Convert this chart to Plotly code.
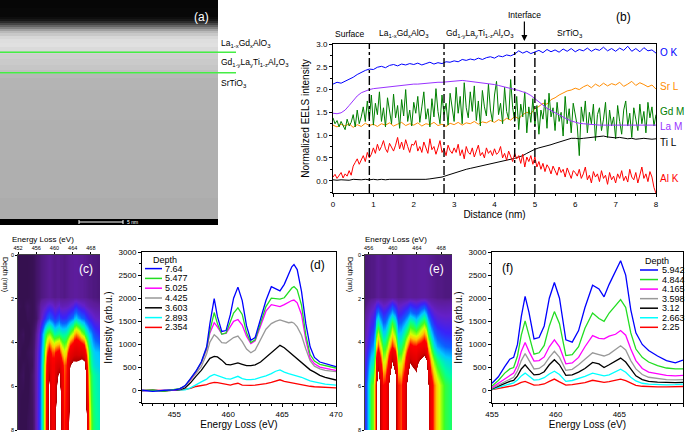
import plotly.graph_objects as go

FONT = "Liberation Sans, Arial, sans-serif"
W, H = 688, 436

# ---------------- panel (a): HAADF image brightness profile ----------------
img_rows = [0, 16, 18, 20, 22, 24, 26, 28, 30, 32, 34, 37, 41, 45, 49, 52, 56, 62, 68, 72, 76, 80, 100, 140, 180, 216, 222]
img_gray = [6, 8, 14, 24, 44, 70, 100, 130, 160, 185, 200, 215, 222, 224, 218, 210, 206, 202, 198, 192, 184, 180, 178, 176, 175, 172, 0]

# ---------------- panel (b): EELS profiles ----------------
distance = [0.0, 0.1, 0.2, 0.3, 0.4, 0.5, 0.6, 0.7, 0.8, 0.9,
            1.0, 1.1, 1.2, 1.3, 1.4, 1.5, 1.6, 1.7, 1.8, 1.9,
            2.0, 2.1, 2.2, 2.3, 2.4, 2.5, 2.6, 2.7, 2.8, 2.9,
            3.0, 3.1, 3.2, 3.3, 3.4, 3.5, 3.6, 3.7, 3.8, 3.9,
            4.0, 4.1, 4.2, 4.3, 4.4, 4.5, 4.6, 4.7, 4.8, 4.9,
            5.0, 5.1, 5.2, 5.3, 5.4, 5.5, 5.6, 5.7, 5.8, 5.9,
            6.0, 6.1, 6.2, 6.3, 6.4, 6.5, 6.6, 6.7, 6.8, 6.9,
            7.0, 7.1, 7.2, 7.3, 7.4, 7.5, 7.6, 7.7, 7.8, 7.9, 8.0]
distance_fine = [0.00, 0.05, 0.10, 0.15, 0.20, 0.25, 0.30, 0.35, 0.40, 0.45,
                 0.50, 0.55, 0.60, 0.65, 0.70, 0.75, 0.80, 0.85, 0.90, 0.95,
                 1.00, 1.05, 1.10, 1.15, 1.20, 1.25, 1.30, 1.35, 1.40, 1.45,
                 1.50, 1.55, 1.60, 1.65, 1.70, 1.75, 1.80, 1.85, 1.90, 1.95,
                 2.00, 2.05, 2.10, 2.15, 2.20, 2.25, 2.30, 2.35, 2.40, 2.45,
                 2.50, 2.55, 2.60, 2.65, 2.70, 2.75, 2.80, 2.85, 2.90, 2.95,
                 3.00, 3.05, 3.10, 3.15, 3.20, 3.25, 3.30, 3.35, 3.40, 3.45,
                 3.50, 3.55, 3.60, 3.65, 3.70, 3.75, 3.80, 3.85, 3.90, 3.95,
                 4.00, 4.05, 4.10, 4.15, 4.20, 4.25, 4.30, 4.35, 4.40, 4.45,
                 4.50, 4.55, 4.60, 4.65, 4.70, 4.75, 4.80, 4.85, 4.90, 4.95,
                 5.00, 5.05, 5.10, 5.15, 5.20, 5.25, 5.30, 5.35, 5.40, 5.45,
                 5.50, 5.55, 5.60, 5.65, 5.70, 5.75, 5.80, 5.85, 5.90, 5.95,
                 6.00, 6.05, 6.10, 6.15, 6.20, 6.25, 6.30, 6.35, 6.40, 6.45,
                 6.50, 6.55, 6.60, 6.65, 6.70, 6.75, 6.80, 6.85, 6.90, 6.95,
                 7.00, 7.05, 7.10, 7.15, 7.20, 7.25, 7.30, 7.35, 7.40, 7.45,
                 7.50, 7.55, 7.60, 7.65, 7.70, 7.75, 7.80, 7.85, 7.90, 7.95, 8.00]
o_k = [2.12, 2.16, 2.14, 2.18, 2.22, 2.27, 2.33, 2.38, 2.42, 2.45,
       2.44, 2.49, 2.51, 2.48, 2.53, 2.55, 2.52, 2.56, 2.54, 2.57,
       2.55, 2.58, 2.54, 2.57, 2.60, 2.56, 2.59, 2.57, 2.61, 2.60,
       2.63, 2.61, 2.66, 2.64, 2.67, 2.65, 2.69, 2.66, 2.70, 2.72,
       2.69, 2.74, 2.72, 2.76, 2.74, 2.78, 2.85, 2.80, 2.84, 2.79,
       2.83, 2.86, 2.81, 2.88, 2.83, 2.87, 2.82, 2.89, 2.84, 2.90,
       2.83, 2.88, 2.85, 2.91, 2.84, 2.89, 2.86, 2.93, 2.85, 2.90,
       2.84, 2.91, 2.86, 2.95, 2.84, 2.90, 2.83, 2.92, 2.85, 2.87, 2.80]
sr_l = [1.22, 1.18, 1.24, 1.20, 1.25, 1.17, 1.23, 1.19, 1.26, 1.21,
        1.24, 1.19, 1.25, 1.22, 1.27, 1.20, 1.24, 1.28, 1.21, 1.25,
        1.22, 1.27, 1.20, 1.25, 1.23, 1.28, 1.21, 1.24, 1.19, 1.26,
        1.23, 1.28, 1.22, 1.27, 1.25, 1.30, 1.24, 1.29, 1.27, 1.32,
        1.28, 1.34, 1.30, 1.37, 1.33, 1.41, 1.36, 1.45, 1.50, 1.47,
        1.58, 1.63, 1.70, 1.68, 1.78, 1.82, 1.88, 1.92, 1.97, 1.99,
        2.03, 2.00, 2.06, 2.10, 2.04, 2.12, 2.07, 2.14, 2.08, 2.13,
        2.10, 2.16, 2.07, 2.12, 2.18, 2.09, 2.15, 2.11, 2.06, 2.10, 2.01]
gd_m = [1.38, 1.25, 1.32, 1.18, 1.30, 1.22, 1.12, 1.35, 1.20, 1.28,
        1.45, 1.18, 1.55, 1.25, 1.40, 1.62, 1.30, 1.75, 1.35, 1.88,
        1.22, 1.70, 1.45, 1.95, 1.30, 1.60, 1.18, 1.82, 1.50, 1.25,
        1.90, 1.38, 1.65, 1.15, 1.78, 1.42, 2.00, 1.30, 1.55, 1.20,
        1.72, 1.48, 1.85, 1.28, 1.62, 1.95, 1.35, 1.58, 1.18, 1.80,
        1.40, 2.02, 1.52, 1.25, 1.88, 1.45, 1.70, 1.22, 1.92, 1.55,
        1.30, 2.05, 1.48, 1.85, 1.25, 2.15, 1.60, 1.38, 1.95, 1.52,
        2.08, 1.32, 1.75, 1.20, 1.98, 1.62, 1.42, 2.12, 1.55, 1.30,
        1.88, 2.18, 1.45, 1.70, 1.25, 2.05, 1.52, 1.35, 2.22, 1.60,
        1.30, 1.85, 1.12, 1.68, 1.40, 1.95, 1.05, 1.62, 1.28, 1.80,
        1.20, 1.65, 1.02, 1.55, 1.35, 1.78, 1.15, 1.92, 1.40, 1.60,
        1.10, 1.72, 1.30, 1.50, 0.98, 1.85, 1.25, 1.58, 1.05, 1.70,
        1.45, 1.20, 0.55, 1.62, 1.30, 1.75, 1.05, 1.50, 1.25, 1.68,
        0.88, 1.45, 1.60, 1.10, 1.35, 1.72, 0.95, 1.55, 1.20, 1.40,
        0.92, 1.65, 1.30, 1.02, 1.55, 1.75, 1.20, 1.48, 0.95, 1.60,
        1.35, 1.10, 1.68, 1.25, 1.52, 1.05, 1.72, 1.38, 1.62, 1.20, 1.45]
la_m = [1.48, 1.47, 1.49, 1.55, 1.65, 1.76, 1.86, 1.93, 1.97, 2.00,
        2.02, 2.03, 2.05, 2.06, 2.07, 2.08, 2.09, 2.10, 2.10, 2.11,
        2.12, 2.12, 2.13, 2.14, 2.14, 2.15, 2.16, 2.16, 2.17, 2.18,
        2.18, 2.19, 2.20, 2.19, 2.18, 2.17, 2.16, 2.15, 2.14, 2.12,
        2.11, 2.09, 2.07, 2.05, 2.02, 2.00, 1.98, 1.95, 1.92, 1.87,
        1.80, 1.72, 1.65, 1.59, 1.54, 1.49, 1.44, 1.39, 1.35, 1.31,
        1.28, 1.26, 1.25, 1.24, 1.23, 1.23, 1.22, 1.22, 1.22, 1.22,
        1.22, 1.22, 1.22, 1.22, 1.22, 1.22, 1.22, 1.23, 1.22, 1.22, 1.22]
ti_l = [0.02, 0.01, 0.02, 0.02, 0.01, 0.03, 0.02, 0.02, 0.03, 0.02,
        0.03, 0.02, 0.03, 0.02, 0.03, 0.03, 0.02, 0.03, 0.03, 0.02,
        0.03, 0.03, 0.02, 0.03, 0.04, 0.05, 0.06, 0.08, 0.11, 0.14,
        0.16, 0.19, 0.22, 0.25, 0.27, 0.29, 0.31, 0.33, 0.34, 0.36,
        0.38, 0.40, 0.42, 0.45, 0.47, 0.49, 0.52, 0.55, 0.60, 0.65,
        0.69, 0.72, 0.74, 0.76, 0.79, 0.82, 0.85, 0.88, 0.91, 0.93,
        0.93, 0.92, 0.93, 0.94, 0.95, 0.95, 0.97, 0.98, 0.96, 0.95,
        0.94, 0.95, 0.93, 0.92, 0.93, 0.91, 0.92, 0.93, 0.92, 0.91, 0.92]
al_k = [0.08, 0.14, 0.05, 0.12, 0.18, 0.06, 0.15, 0.10, 0.22, 0.12,
        0.32, 0.40, 0.48, 0.36, 0.45, 0.55, 0.42, 0.62, 0.50, 0.58,
        0.72, 0.60, 0.80, 0.66, 0.75, 0.88, 0.70, 0.62, 0.82, 0.72,
        0.65, 0.78, 0.95, 0.70, 0.85, 0.68, 0.90, 0.75, 0.62, 0.80,
        0.78, 0.88, 0.65, 0.75, 0.62, 0.85, 0.70, 0.60, 0.92, 0.68,
        0.75, 0.58, 0.72, 0.88, 0.62, 0.70, 0.55, 0.78, 0.66, 0.60,
        0.72, 0.62, 0.80, 0.55, 0.68, 0.48, 0.75, 0.62, 0.58, 0.72,
        0.52, 0.68, 0.78, 0.55, 0.62, 0.50, 0.72, 0.60, 0.66, 0.55,
        0.70, 0.58, 0.62, 0.75, 0.50, 0.60, 0.45, 0.65, 0.52, 0.42,
        0.60, 0.48, 0.55, 0.38, 0.58, 0.30, 0.52, 0.42, 0.55, 0.36,
        0.52, 0.30, 0.42, 0.25, 0.38, 0.20, 0.35, 0.28, 0.15, 0.32,
        0.22, 0.12, 0.30, 0.18, 0.25, 0.08, 0.28, 0.15, 0.05, 0.22,
        0.18, 0.10, 0.25, 0.05, 0.15, 0.30, 0.02, 0.12, -0.05, 0.20,
        0.08, 0.15, -0.02, 0.22, 0.05, 0.12, -0.08, 0.18, 0.02, 0.10,
        -0.05, 0.15, 0.05, 0.22, 0.00, 0.10, -0.03, 0.25, 0.08, 0.02,
        0.18, -0.05, 0.12, 0.30, 0.05, 0.15, -0.02, 0.20, 0.08, -0.15, -0.28]
boundaries = [0.9, 2.75, 4.5, 5.0]
edge_names = ["O K", "Sr L", "Gd M", "La M", "Ti L", "Al K"]
edge_label_y = [2.82, 2.06, 1.51, 1.18, 0.83, 0.05]

# ---------------- panel (d) spectra (and heatmap c) ----------------
energy_d = [452, 453, 454, 455, 455.5, 456, 456.5, 457, 457.5, 458,
            458.3, 458.7, 459.0, 459.4, 459.8, 460.2, 460.5, 460.9, 461.3, 461.7,
            462.1, 462.5, 463.0, 463.5, 464.0, 464.4, 464.8, 465.2, 465.6, 465.9,
            466.1, 466.4, 466.8, 467.2, 467.6, 468.0, 468.5, 469.0, 469.5, 470.0]
d_764 = [10, -15, 5, 15, 40, 110, 260, 420, 620, 950,
         1450, 1990, 1600, 1280, 1300, 1650, 2000, 2240, 1950, 1400,
         1090, 1150, 1550, 1950, 2250, 2200, 2160, 2300, 2520, 2680,
         2730, 2620, 2150, 1450, 950, 720, 620, 580, 550, 520]
d_5477 = [0, 10, -10, 20, 45, 100, 250, 410, 610, 920,
          1300, 1690, 1450, 1220, 1250, 1500, 1680, 1790, 1650, 1250,
          1040, 1100, 1450, 1820, 2000, 1990, 1980, 2010, 2120, 2220,
          2250, 2180, 1850, 1200, 780, 640, 570, 540, 510, 490]
d_5025 = [-5, 5, 0, 10, 40, 95, 240, 400, 600, 900,
          1250, 1470, 1380, 1230, 1240, 1400, 1500, 1540, 1420, 1180,
          1020, 1080, 1400, 1720, 1860, 1840, 1820, 1860, 1920, 1950,
          1960, 1900, 1650, 1100, 700, 580, 510, 480, 460, 440]
d_4425 = [10, -5, 5, 15, 35, 90, 220, 370, 520, 800,
          1050, 1210, 1150, 1040, 1030, 1100, 1150, 1180, 1060, 900,
          820, 880, 1100, 1330, 1450, 1500, 1530, 1500, 1470, 1480,
          1460, 1380, 1200, 900, 650, 530, 470, 440, 430, 410]
d_3603 = [0, 10, -10, 10, 25, 60, 170, 310, 440, 600,
          700, 740, 730, 660, 570, 560, 580, 600, 570, 540,
          540, 560, 620, 720, 830, 920, 980, 930, 850, 790,
          760, 700, 620, 540, 450, 400, 330, 290, 260, 230]
d_2893 = [0, -10, 5, 5, 10, 20, 60, 130, 190, 250,
          310, 350, 330, 300, 260, 250, 280, 310, 260, 240,
          240, 250, 290, 320, 370, 420, 450, 400, 370, 350,
          340, 320, 290, 250, 210, 190, 160, 140, 130, 120]
d_2354 = [5, 0, 10, 5, 10, 25, 50, 90, 110, 130,
          160, 180, 175, 160, 130, 120, 140, 160, 120, 110,
          115, 120, 130, 150, 180, 210, 235, 200, 180, 170,
          160, 150, 130, 110, 95, 85, 75, 70, 65, 60]
base_d = [0, 0, 0, 5, 10, 20, 30, 40, 45, 50,
          55, 60, 60, 55, 50, 50, 55, 55, 50, 50,
          45, 50, 55, 60, 65, 70, 70, 65, 60, 60,
          60, 55, 55, 50, 45, 45, 40, 40, 35, 35]
depth_labels_d = ["7.64", "5.477", "5.025", "4.425", "3.603", "2.893", "2.354"]
depths_c = [0.0, 1.9, 2.354, 2.893, 3.603, 4.425, 5.025, 5.477, 7.64, 8.0]

# ---------------- panel (f) spectra (and heatmap e) ----------------
energy_f = [455.0, 455.5, 456.0, 456.4, 456.7, 457.0, 457.3, 457.6, 457.9, 458.3,
            458.7, 459.1, 459.5, 459.9, 460.3, 460.8, 461.3, 461.8, 462.3, 462.9,
            463.4, 463.8, 464.2, 464.7, 465.1, 465.5, 465.9, 466.3, 466.8, 467.3,
            468.0, 468.7, 469.4, 470.0]
f_5942 = [160, 300, 520, 680, 720, 1000, 1600, 2040, 1700, 1120,
          1150, 1400, 2000, 2340, 2000, 1100, 1050, 1300, 1800, 2280,
          2200, 2030, 2300, 2600, 2810, 2500, 1750, 1250, 1000, 870,
          750, 650, 600, 660]
f_4844 = [100, 220, 380, 470, 500, 750, 1200, 1510, 1200, 790,
          820, 980, 1400, 1710, 1450, 760, 780, 950, 1350, 1680,
          1560, 1500, 1680, 1850, 1970, 1800, 1250, 900, 720, 620,
          540, 490, 470, 470]
f_4165 = [70, 160, 260, 340, 380, 550, 850, 1040, 850, 640,
          650, 730, 950, 1100, 950, 580, 600, 720, 950, 1190,
          1130, 1120, 1180, 1220, 1300, 1200, 900, 650, 480, 400,
          360, 330, 320, 330]
f_3598 = [50, 120, 200, 260, 290, 430, 650, 800, 650, 470,
          480, 560, 720, 850, 720, 440, 460, 560, 680, 820,
          780, 750, 790, 880, 970, 880, 650, 470, 350, 290,
          260, 240, 235, 240]
f_312 = [40, 100, 160, 200, 220, 320, 470, 560, 460, 340,
         350, 410, 560, 670, 560, 330, 340, 400, 480, 610,
         580, 500, 560, 640, 705, 620, 460, 320, 240, 200,
         185, 175, 175, 180]
f_2663 = [30, 70, 120, 150, 170, 230, 320, 380, 310, 230,
          240, 280, 360, 420, 350, 200, 220, 260, 310, 380,
          340, 320, 340, 410, 465, 400, 290, 210, 160, 140,
          130, 125, 130, 140]
f_225 = [20, 45, 70, 95, 110, 140, 180, 200, 160, 120,
         125, 145, 200, 250, 190, 120, 130, 150, 175, 225,
         200, 180, 195, 230, 250, 215, 160, 115, 95, 85,
         80, 80, 85, 90]
base_f = [30, 35, 40, 45, 45, 50, 55, 60, 55, 50,
          50, 55, 60, 65, 60, 50, 50, 55, 60, 65,
          60, 60, 65, 70, 70, 65, 60, 55, 50, 45,
          45, 40, 40, 40]
depth_labels_f = ["5.942", "4.844", "4.165", "3.598", "3.12", "2.663", "2.25"]
depths_e = [0.0, 1.9, 2.25, 2.663, 3.12, 3.598, 4.165, 4.844, 5.942, 8.0]

spec_colors = ["#0000ff", "#22dd22", "#ff00ff", "#999999", "#000000", "#00ffff", "#ff0000"]
edge_colors = ["#0000ff", "#ff8c00", "#008000", "#9932ff", "#000000", "#ff0000"]

eels_cscale = [[0.0, "#35104f"], [0.035, "#5c1c98"], [0.08, "#6420c8"], [0.13, "#3a22f8"],
               [0.19, "#0a60ff"], [0.25, "#00c8ff"], [0.32, "#00ff9a"], [0.39, "#40ff20"],
               [0.46, "#d8ff00"], [0.52, "#ffc800"], [0.58, "#ff6400"], [0.64, "#ff0000"],
               [0.9, "#d80000"], [0.985, "#b00000"], [1.0, "#ffffff"]]
ZMAX = 1750

def px(x):
    return x / W

def py(y):
    return 1 - y / H

fig = go.Figure()

# (a) image (unsmoothed bands)
fig.add_trace(go.Heatmap(z=[[g, g, g] for g in img_gray], x=[-1, 0.5, 2], y=img_rows,
                         colorscale=[[0, "black"], [1, "white"]], zmin=0, zmax=255,
                         showscale=False, hoverinfo="skip",
                         xaxis="x", yaxis="y"))

# (b) profiles
profile_x = [distance, distance, distance_fine, distance, distance, distance_fine]
for name, xs, vals, col in zip(edge_names, profile_x, [o_k, sr_l, gd_m, la_m, ti_l, al_k], edge_colors):
    fig.add_trace(go.Scatter(x=xs, y=vals, mode="lines", name=name,
                             line=dict(color=col, width=1.0), showlegend=False,
                             xaxis="x2", yaxis="y2"))

# (c) heatmap
z_c = [base_d, base_d, d_2354, d_2893, d_3603, d_4425, d_5025, d_5477, d_764, d_764]
fig.add_trace(go.Heatmap(z=z_c, x=energy_d, y=depths_c, colorscale=eels_cscale,
                         zmin=0, zmax=ZMAX, zsmooth="best", showscale=False,
                         xaxis="x3", yaxis="y3"))

# (d) spectra
spectra_d = [d_764, d_5477, d_5025, d_4425, d_3603, d_2893, d_2354]
for lab, vals, col in reversed(list(zip(depth_labels_d, spectra_d, spec_colors))):
    fig.add_trace(go.Scatter(x=energy_d, y=vals, mode="lines", name=lab,
                             line=dict(color=col, width=1.3), showlegend=False,
                             xaxis="x4", yaxis="y4"))

# (e) heatmap
z_e = [base_f, base_f, f_225, f_2663, f_312, f_3598, f_4165, f_4844, f_5942, f_5942]
fig.add_trace(go.Heatmap(z=z_e, x=energy_f, y=depths_e, colorscale=eels_cscale,
                         zmin=0, zmax=ZMAX, zsmooth="best", showscale=False,
                         xaxis="x5", yaxis="y5"))

# (f) spectra
spectra_f = [f_5942, f_4844, f_4165, f_3598, f_312, f_2663, f_225]
for lab, vals, col in reversed(list(zip(depth_labels_f, spectra_f, spec_colors))):
    fig.add_trace(go.Scatter(x=energy_f, y=vals, mode="lines", name=lab,
                             line=dict(color=col, width=1.3), showlegend=False,
                             xaxis="x6", yaxis="y6"))

tickf = dict(family=FONT, size=8, color="black")
titlef = dict(family=FONT, size=10, color="black")
small = dict(family=FONT, size=5.5, color="black")

def frame_axis(**kw):
    base = dict(showline=True, linecolor="black", linewidth=1, mirror=True,
                ticks="outside", ticklen=3, tickwidth=1, tickcolor="black",
                showgrid=False, zeroline=False, tickfont=tickf, automargin=False,
                minor=dict(ticks="outside", ticklen=2, tickcolor="black"))
    base.update(kw)
    return base

def hm_axis(**kw):
    base = dict(showline=True, linecolor="#444", linewidth=0.8, mirror=False,
                ticks="outside", ticklen=2, tickwidth=0.8, tickcolor="black",
                showgrid=False, zeroline=False, tickfont=small, automargin=False)
    base.update(kw)
    return base

fig.update_layout(
    width=W, height=H, margin=dict(l=0, r=0, t=0, b=0, pad=0, autoexpand=False),
    paper_bgcolor="white", plot_bgcolor="white", showlegend=False,
    font=dict(family=FONT, color="black"),
    xaxis=dict(domain=[0, px(218)], range=[0, 1], visible=False, anchor="y"),
    yaxis=dict(domain=[py(226), 1], range=[226, 0], visible=False, anchor="x"),
    xaxis2=frame_axis(domain=[px(333), px(656)], range=[0, 8], dtick=1, anchor="y2",
                      title=dict(text="Distance (nm)", font=titlef, standoff=2),
                      minor=dict(ticks="outside", ticklen=2, dtick=0.5, tickcolor="black")),
    yaxis2=frame_axis(domain=[py(193), py(44)], range=[-0.27, 3.0], dtick=0.5,
                      tickformat=".1f", anchor="x2",
                      title=dict(text="Normalized EELS intensity", font=titlef, standoff=4),
                      minor=dict(ticks="outside", ticklen=2, dtick=0.25, tickcolor="black")),
    xaxis3=hm_axis(domain=[px(18), px(100)], range=[452, 470], side="top",
                   tickvals=[452, 456, 460, 464, 468], anchor="y3"),
    yaxis3=hm_axis(domain=[py(430), py(255)], range=[8, 0], tickvals=[0, 2, 4, 6, 8], anchor="x3"),
    xaxis4=frame_axis(domain=[px(142), px(336)], range=[452, 470], tickvals=[455, 460, 465, 470],
                      anchor="y4", title=dict(text="Energy Loss (eV)", font=titlef, standoff=2),
                      minor=dict(ticks="outside", ticklen=2, dtick=1, tickcolor="black")),
    yaxis4=frame_axis(domain=[py(403), py(252)], range=[-267, 3000], dtick=500, anchor="x4",
                      title=dict(text="Intensity (arb.u.)", font=titlef, standoff=4),
                      minor=dict(ticks="outside", ticklen=2, dtick=250, tickcolor="black")),
    xaxis5=hm_axis(domain=[px(365), px(452)], range=[455.4, 469.8], side="top",
                   tickvals=[456, 460, 464, 468], anchor="y5"),
    yaxis5=hm_axis(domain=[py(430), py(255)], range=[8, 0], tickvals=[0, 2, 4, 6, 8], anchor="x5"),
    xaxis6=frame_axis(domain=[px(492), px(683)], range=[455, 470], tickvals=[455, 460, 465, 470],
                      anchor="y6", title=dict(text="Energy Loss (eV)", font=titlef, standoff=2),
                      minor=dict(ticks="outside", ticklen=2, dtick=1, tickcolor="black")),
    yaxis6=frame_axis(domain=[py(403), py(252)], range=[-267, 3000], dtick=500, anchor="x6",
                      title=dict(text="Intensity (arb.u.)", font=titlef, standoff=4),
                      minor=dict(ticks="outside", ticklen=2, dtick=250, tickcolor="black")),
)

shapes = []
ann = []

def label(x, y, text, font, xanchor="center", yanchor="middle", **kw):
    d = dict(x=x, y=y, xref=kw.pop("xref", "paper"), yref=kw.pop("yref", "paper"), text=text,
             showarrow=False, xanchor=xanchor, yanchor=yanchor, font=font)
    d.update(kw)
    ann.append(d)

# (a) decorations
for yl in [52.3, 72.7]:
    shapes.append(dict(type="line", xref="paper", yref="paper", x0=0, x1=px(236),
                       y0=py(yl), y1=py(yl), line=dict(color="#44ee44", width=1.6)))
shapes.append(dict(type="line", xref="paper", yref="paper", x0=px(79), x1=px(123),
                   y0=py(222), y1=py(222), line=dict(color="white", width=1)))
for xs in [79, 123]:
    shapes.append(dict(type="line", xref="paper", yref="paper", x0=px(xs), x1=px(xs),
                       y0=py(220), y1=py(224), line=dict(color="white", width=1)))
label(px(125), py(222), "5 nm", dict(family=FONT, size=5, color="white"), xanchor="left")
label(px(201), py(17), "(a)", dict(family=FONT, size=12, color="white"))
afont = dict(family=FONT, size=8.5, color="black")
for txt, yy in [("La<sub>1-x</sub>Gd<sub>x</sub>AlO<sub>3</sub>", 43),
                ("Gd<sub>1-y</sub>La<sub>y</sub>Ti<sub>1-z</sub>Al<sub>z</sub>O<sub>3</sub>", 62),
                ("SrTiO<sub>3</sub>", 83)]:
    label(px(219), py(yy), txt, afont, xanchor="left")

# (b) decorations
for b in boundaries:
    shapes.append(dict(type="line", xref="x2", yref="y2 domain", x0=b, x1=b, y0=0, y1=1,
                       line=dict(color="black", width=1.4, dash="dashdot")))
bfont = dict(family=FONT, size=8.5, color="black")
for txt, xx in [("Surface", 0.42), ("La<sub>1-x</sub>Gd<sub>x</sub>AlO<sub>3</sub>", 1.75),
                ("Gd<sub>1-y</sub>La<sub>y</sub>Ti<sub>1-z</sub>Al<sub>z</sub>O<sub>3</sub>", 3.65),
                ("SrTiO<sub>3</sub>", 5.87)]:
    label(xx, py(34), txt, bfont, xref="x2")
ann.append(dict(x=4.74, y=py(41), xref="x2", yref="paper", text="Interface", showarrow=True,
                ax=0, ay=-26, arrowhead=2, arrowsize=1, arrowwidth=1.2, arrowcolor="black",
                font=bfont))
label(px(623), py(17), "(b)", dict(family=FONT, size=12, color="black"))
for name, yy, col in zip(edge_names, edge_label_y, edge_colors):
    label(1, yy, name, dict(family=FONT, size=10, color=col), xanchor="left",
          xref="x2 domain", yref="y2", xshift=2)

# heatmap labels
for cx, tx, lab in [(43, 86, "(c)"), (396, 436, "(e)")]:
    label(px(cx), py(239), "Energy Loss (eV)", dict(family=FONT, size=8, color="black"))
    label(px(tx), py(269), lab, dict(family=FONT, size=12, color="white"))
for xx in [5, 350]:
    label(px(xx), py(274), "Depth (nm)", dict(family=FONT, size=7, color="black"), textangle=90)

# (d), (f) labels and legends
label(px(317), py(265), "(d)", dict(family=FONT, size=12, color="black"))
label(px(507), py(268), "(f)", dict(family=FONT, size=12, color="black"))
lfont = dict(family=FONT, size=9, color="black")
label(px(165), py(259.5), "Depth", lfont)
label(px(657), py(260.5), "Depth", lfont)
for i, (lab, col) in enumerate(zip(depth_labels_d, spec_colors)):
    yy = 268.6 + 9.8 * i
    shapes.append(dict(type="line", xref="paper", yref="paper", x0=px(145), x1=px(162),
                       y0=py(yy), y1=py(yy), line=dict(color=col, width=1.5)))
    label(px(163), py(yy), lab, lfont, xanchor="left")
for i, (lab, col) in enumerate(zip(depth_labels_f, spec_colors)):
    yy = 270 + 9.55 * i
    shapes.append(dict(type="line", xref="paper", yref="paper", x0=px(640), x1=px(658),
                       y0=py(yy), y1=py(yy), line=dict(color=col, width=1.5)))
    label(px(660), py(yy), lab, lfont, xanchor="left")

fig.update_layout(shapes=shapes, annotations=ann)
fig.write_html("out.html", config={"displayModeBar": False},
               post_script="document.body.style.margin='0';document.body.style.padding='0';"
                           "document.documentElement.style.overflow='hidden';"
                           "var gd=document.getElementById('{plot_id}');"
                           "gd.style.position='fixed';gd.style.left='0px';gd.style.top='0px';")
